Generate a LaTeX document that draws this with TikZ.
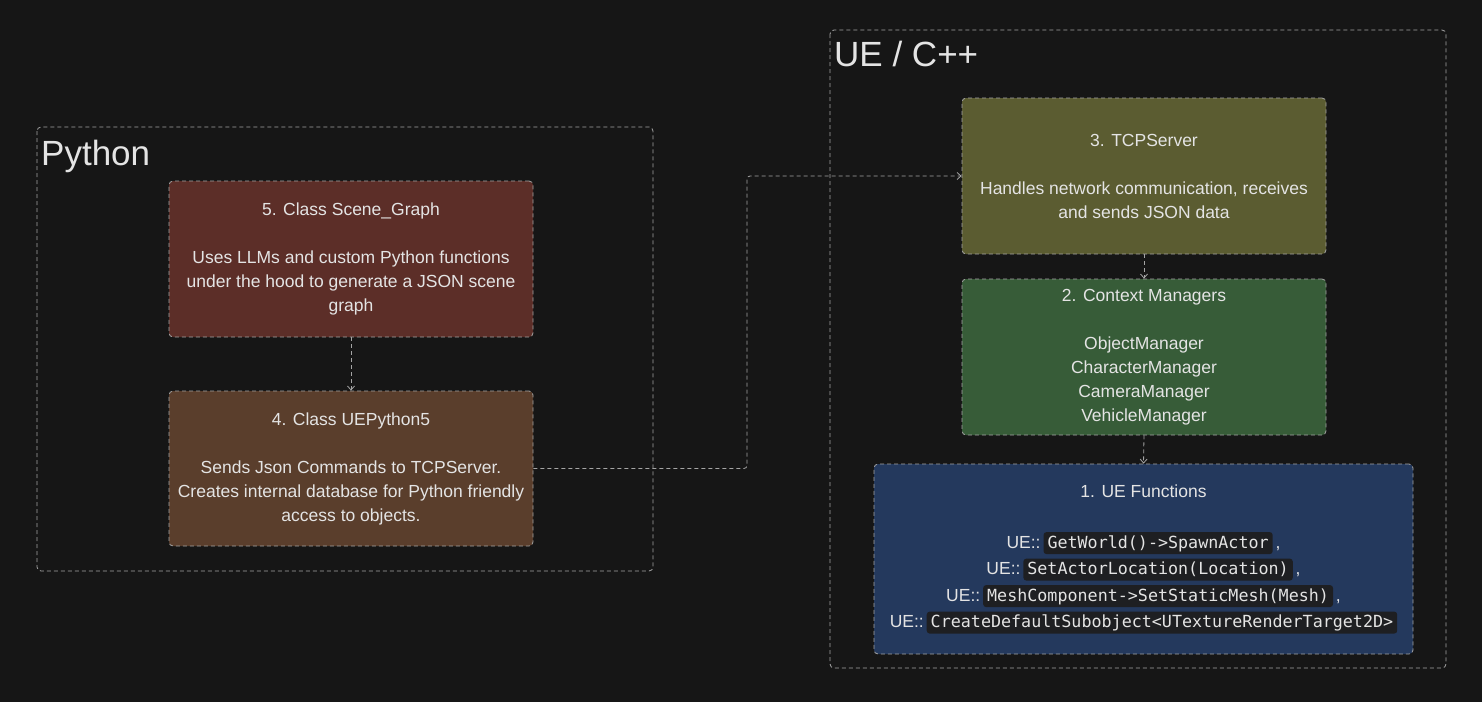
\documentclass[tikz,border=0pt]{standalone}
\usepackage{fontspec}
\setmainfont{Liberation Sans}
\setmonofont{DejaVu Sans Mono}
\usetikzlibrary{arrows.meta}

\definecolor{canvas}{RGB}{22,22,22}
\definecolor{edge}{RGB}{165,165,165}
\definecolor{ink}{RGB}{228,228,228}
\definecolor{scenecol}{RGB}{92,46,40}
\definecolor{pycol}{RGB}{90,62,44}
\definecolor{tcpcol}{RGB}{91,92,49}
\definecolor{ctxcol}{RGB}{55,92,56}
\definecolor{uecol}{RGB}{36,57,93}
\definecolor{codecol}{RGB}{30,31,34}

\tikzset{
  group/.style={draw=edge, line width=0.8pt, dash pattern=on 4pt off 3pt, rounded corners=4pt},
  grouplabel/.style={text=ink, font=\fontsize{35}{40}\selectfont, inner sep=0pt},
  block/.style={draw=edge, line width=0.8pt, dash pattern=on 4pt off 3pt, rounded corners=4pt,
    text=ink, align=center, font=\fontsize{17.5}{24}\selectfont, inner sep=0pt},
  link/.style={draw=edge, line width=0.8pt, dash pattern=on 4pt off 3pt,
    -{Straight Barb[length=4pt,width=7pt]}},
  codespan/.style={fill=codecol, draw=none, solid, rounded corners=3pt, inner xsep=4pt, inner ysep=0pt,
    minimum width=0pt, minimum height=0pt, align=left,
    text height=16pt, text depth=6pt, text=ink, font=\ttfamily\fontsize{16.7}{20}\selectfont}
}
\newcommand{\uecode}[1]{\tikz[baseline=(cs.base)]\node[codespan] (cs) {#1};}

\begin{document}
\begin{tikzpicture}[x=1pt, y=-1pt]
  \fill[canvas] (0,0) rectangle (1482,702);
  \useasboundingbox (0,0) rectangle (1482,702);

  % groups
  \draw[group] (37,127) rectangle (653,571);
  \node[grouplabel, anchor=base west] (pylabel) at (41,165) {Python};
  \draw[group] (830,30) rectangle (1446,668);
  \node[grouplabel, anchor=base west] (uelabel) at (834,66) {UE / C++};

  % python side
  \node[block, fill=scenecol, minimum width=364pt, minimum height=156pt] (scene) at (351,259)
    {5. Class Scene\_Graph\\[24pt]Uses LLMs and custom Python functions\\under the hood to generate a JSON scene\\graph};
  \node[block, fill=pycol, minimum width=364pt, minimum height=155pt] (py) at (351,468.5)
    {4. Class UEPython5\\[24pt]Sends Json Commands to TCPServer.\\Creates internal database for Python friendly\\access to objects.};

  % ue side
  \node[block, fill=tcpcol, minimum width=364pt, minimum height=156pt] (tcp) at (1144,176)
    {3. TCPServer\\[24pt]Handles network communication, receives\\and sends JSON data};
  \node[block, fill=ctxcol, minimum width=364pt, minimum height=156pt] (ctx) at (1144,357)
    {2. Context Managers\\[24pt]ObjectManager\\CharacterManager\\CameraManager\\VehicleManager};
  \node[block, fill=uecol, minimum width=539pt, minimum height=190pt,
    font=\fontsize{17.5}{26.5}\selectfont] (uefn) at (1143.5,559)
    {1. UE Functions\\[24.5pt]
     UE::\,\uecode{GetWorld()->SpawnActor}\,,\\
     UE::\,\uecode{SetActorLocation(Location)}\,,\\
     UE::\,\uecode{MeshComponent->SetStaticMesh(Mesh)}\,,\\
     UE::\,\uecode{CreateDefaultSubobject<UTextureRenderTarget2D>}};

  \coordinate (bend) at (747,300);

  % connectors
  \draw[link] (scene.south) -- (py.north);
  \draw[link] (tcp.south) -- (ctx.north);
  \draw[link] (ctx.south) -- (uefn.north);
  \draw[link, rounded corners=3pt] (py.east) -| (bend) |- (tcp.west);
\end{tikzpicture}
\end{document}
